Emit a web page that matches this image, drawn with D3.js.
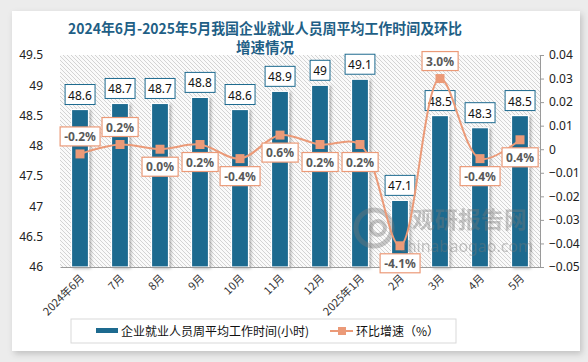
<!DOCTYPE html>
<html>
<head>
<meta charset="utf-8">
<script src="https://cdn.jsdelivr.net/npm/d3@7"></script>
<style>
  html, body { margin: 0; padding: 0; background: #ececec; }
  svg { display: block; }
  text { font-family: "Noto Sans CJK SC", "Noto Sans", sans-serif; }
</style>
</head>
<body>
<script>
const width = 588, height = 362;

// data
const months = ["2024年6月", "7月", "8月", "9月", "10月", "11月", "12月", "2025年1月", "2月", "3月", "4月", "5月"];
const hours = [48.6, 48.7, 48.7, 48.8, 48.6, 48.9, 49, 49.1, 47.1, 48.5, 48.3, 48.5];
const growth = [-0.002, 0.002, 0.000, 0.002, -0.004, 0.006, 0.002, 0.002, -0.041, 0.030, -0.004, 0.004];
const growthLabels = ["-0.2%", "0.2%", "0.0%", "0.2%", "-0.4%", "0.6%", "0.2%", "0.2%", "-4.1%", "3.0%", "-0.4%", "0.4%"];
const labelAbove = [true, true, false, false, false, false, false, false, false, true, false, false];
const leftTicks = [46, 46.5, 47, 47.5, 48, 48.5, 49, 49.5];
const rightTicks = [-0.05, -0.04, -0.03, -0.02, -0.01, 0, 0.01, 0.02, 0.03, 0.04];

const barColor = "#1d6a8f";
const lineColor = "#eb9a78";

const plot = {left: 60, right: 540, top: 55, bottom: 267};

const svg = d3.select("body").append("svg")
    .attr("width", width)
    .attr("height", height);

const defs = svg.append("defs");

const cardShadow = defs.append("filter").attr("id", "cardShadow")
    .attr("x", "-5%").attr("y", "-5%").attr("width", "110%").attr("height", "115%");
cardShadow.append("feDropShadow")
    .attr("dx", 2).attr("dy", 3).attr("stdDeviation", 3)
    .attr("flood-color", "#000").attr("flood-opacity", 0.18);

const barShadow = defs.append("filter").attr("id", "barShadow")
    .attr("x", "-40%").attr("y", "-10%").attr("width", "200%").attr("height", "130%");
barShadow.append("feDropShadow")
    .attr("dx", 2).attr("dy", 1).attr("stdDeviation", 1.6)
    .attr("flood-color", "#000").attr("flood-opacity", 0.3);

const hatch = defs.append("pattern").attr("id", "hatch")
    .attr("patternUnits", "userSpaceOnUse")
    .attr("width", 4).attr("height", 4);
hatch.append("rect").attr("width", 4).attr("height", 4).attr("fill", "#fafafa");
hatch.append("path")
    .attr("d", "M-1,-1 L5,5 M3,-1 L5,1 M-1,3 L1,5")
    .attr("stroke", "#cfcfcf").attr("stroke-width", 0.9);

// card
svg.append("rect")
    .attr("x", 12).attr("y", 11)
    .attr("width", 568).attr("height", 340)
    .attr("fill", "#fff")
    .attr("filter", "url(#cardShadow)");

// title
const title = svg.append("text")
    .attr("text-anchor", "middle")
    .attr("fill", "#1f5f86")
    .attr("font-size", 14.5)
    .attr("font-weight", "bold");
title.append("tspan").attr("x", 265).attr("y", 34)
    .attr("textLength", 394).attr("lengthAdjust", "spacingAndGlyphs")
    .text("2024年6月-2025年5月我国企业就业人员周平均工作时间及环比");
title.append("tspan").attr("x", 265).attr("y", 53).text("增速情况");

// scales
const x = d3.scaleBand().domain(months).range([plot.left, plot.right]).paddingInner(0.575).paddingOuter(0.2875);
const yL = d3.scaleLinear().domain([46, 49.5]).range([plot.bottom, plot.top]);
const yR = d3.scaleLinear().domain([-0.05, 0.04]).range([plot.bottom, plot.top]);

// hatched plot background
svg.append("rect")
    .attr("x", plot.left).attr("y", plot.top)
    .attr("width", plot.right - plot.left).attr("height", plot.bottom - plot.top)
    .attr("fill", "url(#hatch)");

// bars
svg.append("g").selectAll("rect")
    .data(hours)
    .join("rect")
    .attr("x", (d, i) => x(months[i]))
    .attr("y", d => yL(d))
    .attr("width", x.bandwidth())
    .attr("height", d => yL(46) - yL(d))
    .attr("fill", barColor)
    .attr("stroke", "#fff")
    .attr("stroke-width", 1.2)
    .attr("filter", "url(#barShadow)");

// watermark (sits over the bars)
const wm = svg.append("g").attr("opacity", 0.4).attr("fill", "#777");
wm.append("circle").attr("cx", 374).attr("cy", 228).attr("r", 18)
    .attr("fill", "none").attr("stroke", "#777").attr("stroke-width", 5);
wm.append("circle").attr("cx", 378).attr("cy", 228).attr("r", 7)
    .attr("fill", "none").attr("stroke", "#777").attr("stroke-width", 4);
wm.append("text").attr("x", 412).attr("y", 228)
    .attr("font-size", 23).attr("font-weight", "bold").text("观研报告网");
wm.append("text").attr("x", 399).attr("y", 252)
    .attr("font-size", 16).style("font-family", "'Noto Sans', sans-serif").text("chinabaogao.com");

// axes
const xAxis = svg.append("g")
    .attr("transform", `translate(0,${plot.bottom})`)
    .call(d3.axisBottom(x).tickSize(0).tickFormat(""));
xAxis.select(".domain").attr("stroke", "#9a9a9a");

svg.append("g").selectAll("text")
    .data(months)
    .join("text")
    .attr("transform", d => `translate(${x(d) + x.bandwidth() / 2 + 5},${plot.bottom + 12}) rotate(-45)`)
    .attr("text-anchor", "end")
    .attr("font-size", 11)
    .attr("fill", "#333")
    .text(d => d);

const leftAxis = svg.append("g")
    .attr("transform", `translate(${plot.left},0)`)
    .call(d3.axisLeft(yL).tickValues(leftTicks).tickSize(0).tickPadding(17).tickFormat(d3.format("")));
leftAxis.select(".domain").remove();
leftAxis.selectAll("text").attr("font-size", 12).attr("fill", "#222")
    .style("font-family", "'Noto Sans', sans-serif");

const rightAxis = svg.append("g")
    .attr("transform", `translate(${plot.right},0)`)
    .call(d3.axisRight(yR).tickValues(rightTicks).tickSize(4).tickPadding(5)
        .tickFormat(d => d === 0 ? "0" : d3.format(".2f")(d)));
rightAxis.select(".domain").attr("stroke", "#9a9a9a");
rightAxis.selectAll(".tick line").attr("stroke", "#9a9a9a");
rightAxis.selectAll("text").attr("font-size", 12).attr("fill", "#222")
    .style("font-family", "'Noto Sans', sans-serif");

// bar value labels
const barLabels = svg.append("g").selectAll("g")
    .data(hours)
    .join("g")
    .attr("transform", (d, i) => `translate(${x(months[i]) + x.bandwidth() / 2},${yL(d) - 5})`);
barLabels.append("text")
    .attr("y", -5)
    .attr("text-anchor", "middle")
    .attr("font-size", 12)
    .attr("fill", "#111")
    .style("font-family", "'Noto Sans', sans-serif")
    .text(d => d);
barLabels.each(function () {
    const g = d3.select(this);
    const bb = g.select("text").node().getBBox();
    g.insert("rect", "text")
        .attr("x", bb.x - 3).attr("y", -20)
        .attr("width", bb.width + 6).attr("height", 20)
        .attr("fill", "#fff")
        .attr("stroke", barColor).attr("stroke-width", 1);
});

// growth line
const cx = i => x(months[i]) + x.bandwidth() / 2;
const line = d3.line()
    .x((d, i) => cx(i))
    .y(d => yR(d))
    .curve(d3.curveCatmullRom.alpha(0.5));

svg.append("path")
    .datum(growth)
    .attr("d", line)
    .attr("fill", "none")
    .attr("stroke", lineColor)
    .attr("stroke-width", 2);

svg.append("g").selectAll("rect")
    .data(growth)
    .join("rect")
    .attr("x", (d, i) => cx(i) - 4.5)
    .attr("y", d => yR(d) - 4.5)
    .attr("width", 9).attr("height", 9)
    .attr("fill", lineColor);

// growth labels
const gLabels = svg.append("g").selectAll("g")
    .data(growth)
    .join("g")
    .attr("transform", (d, i) => `translate(${cx(i)},${labelAbove[i] ? yR(d) - 27 : yR(d) + 8})`);
gLabels.append("text")
    .attr("y", 14)
    .attr("text-anchor", "middle")
    .attr("font-size", 12)
    .attr("font-weight", "bold")
    .attr("fill", "#595959")
    .style("font-family", "'Noto Sans', sans-serif")
    .text((d, i) => growthLabels[i]);
gLabels.each(function () {
    const g = d3.select(this);
    const bb = g.select("text").node().getBBox();
    g.insert("rect", "text")
        .attr("x", bb.x - 4).attr("y", 0)
        .attr("width", bb.width + 8).attr("height", 19)
        .attr("fill", "#fff")
        .attr("stroke", lineColor).attr("stroke-width", 1.2);
});

// legend
const legend = svg.append("g");
legend.append("rect")
    .attr("x", 71).attr("y", 319)
    .attr("width", 385).attr("height", 24)
    .attr("fill", "#fff").attr("stroke", "#d9d9d9");
legend.append("rect")
    .attr("x", 96).attr("y", 328).attr("width", 22).attr("height", 5)
    .attr("fill", barColor);
legend.append("text")
    .attr("x", 121).attr("y", 336)
    .attr("font-size", 12).attr("fill", "#111")
    .text("企业就业人员周平均工作时间(小时)");
legend.append("line")
    .attr("x1", 330).attr("x2", 353).attr("y1", 331).attr("y2", 331)
    .attr("stroke", lineColor).attr("stroke-width", 2);
legend.append("rect")
    .attr("x", 338).attr("y", 327).attr("width", 8).attr("height", 8)
    .attr("fill", lineColor);
legend.append("text")
    .attr("x", 356).attr("y", 336)
    .attr("font-size", 12).attr("fill", "#111")
    .text("环比增速（%）");
</script>
</body>
</html>
